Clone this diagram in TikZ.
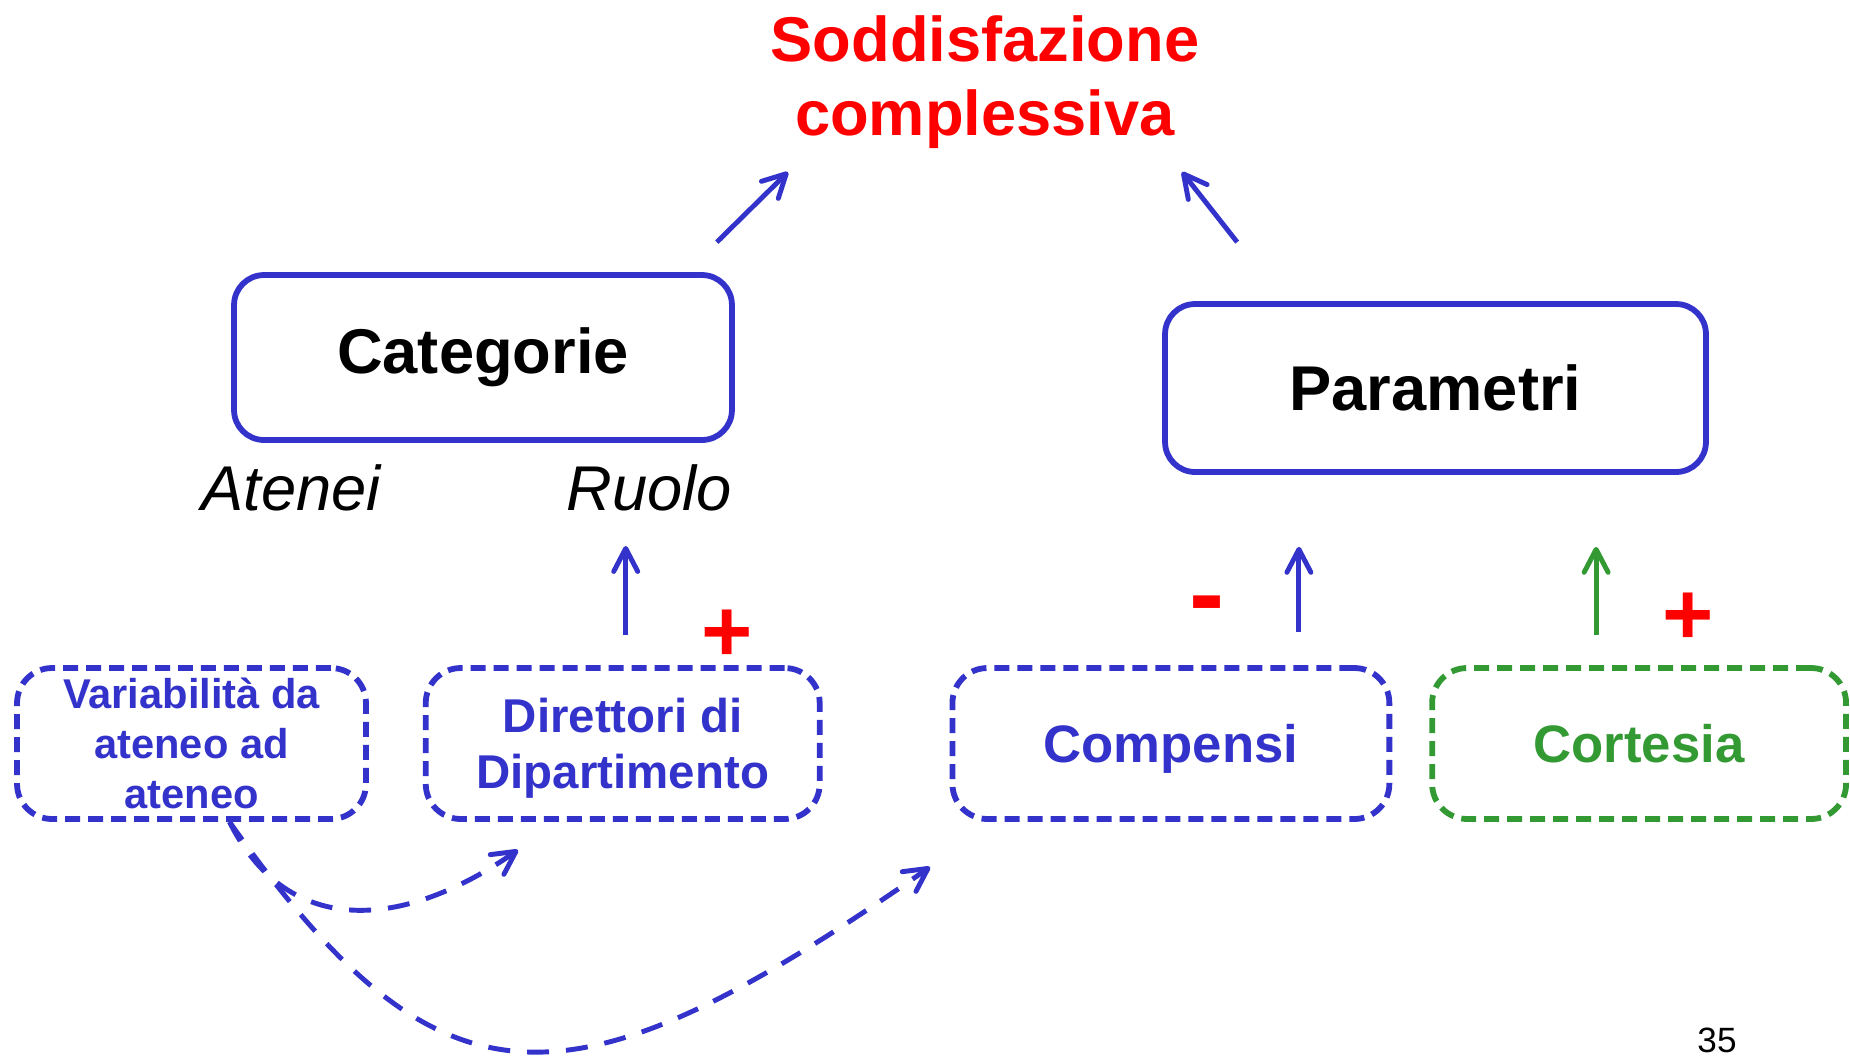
\documentclass[tikz,border=0pt]{standalone}
\usepackage{fontspec}
\setmainfont{Liberation Sans}
\usetikzlibrary{arrows.meta, positioning}
\definecolor{blu}{RGB}{51,51,204}
\definecolor{verde}{RGB}{51,153,51}

\begin{document}
\begin{tikzpicture}[
    x=0.02cm, y=-0.02cm,
    box/.style={rectangle, draw=blu, line width=3.3pt, rounded corners=0.6cm,
                minimum height=3.3cm, align=center,
                font=\fontsize{36}{43}\selectfont\bfseries},
    dashbox/.style={rectangle, draw=blu, line width=3.3pt, rounded corners=0.7cm,
                dash pattern=on 0.3cm off 0.16cm, minimum height=3.02cm,
                inner sep=2pt, align=center, text=blu},
    etichetta/.style={font=\fontsize{36}{43}\selectfont\itshape, inner sep=0pt},
    segno/.style={text=red, font=\fontsize{50}{60}\selectfont\bfseries, inner sep=0pt},
    arrow/.style={-{Straight Barb[length=0.46cm, width=0.48cm, round]},
                line width=2.8pt, draw=blu},
    dasharrow/.style={arrow, dash pattern=on 0.44cm off 0.34cm},
    node distance=1.2cm
]
\useasboundingbox (0,0) rectangle (1850,1056);
\clip (0,0) rectangle (1850,1056);

%% TITOLO
\node[text=red, font=\fontsize{36}{42.5}\selectfont\bfseries, align=center,
      inner sep=0pt] (titolo) at (985,82) {Soddisfazione\\complessiva};

%% CATEGORIE E PARAMETRI
\node[box, minimum width=9.96cm] (cat) at (483,357.5) {Categorie};
\node[box, minimum width=10.82cm, minimum height=3.36cm] (par) at (1435.5,388) {Parametri};

\node[etichetta, anchor=base west] (atenei) at (201,510) {Atenei};
\node[etichetta, anchor=base east] (ruolo) at (732,510) {Ruolo};

\coordinate (puntaS) at (788,172);
\coordinate (puntaD) at (1182,172);
\draw[arrow] ([shift={(-18,-30)}]cat.north east) -- (puntaS);
\draw[arrow] ([shift={(75,-59)}]par.north west) -- (puntaD);

%% FATTORI
\node[dashbox, minimum width=6.98cm,
      font=\fontsize{23.7}{28.3}\selectfont\bfseries] (var) at (191.5,743.5) {
    Variabilità da\\ateneo ad\\ateneo
};
\node[dashbox, minimum width=7.88cm, right=1.08cm of var, text depth=0pt,
      font=\fontsize{27}{31.7}\selectfont\bfseries] (dir) {
    Direttori di\\Dipartimento
};
\node[dashbox, minimum width=8.74cm, right=2.54cm of dir, text depth=0pt,
      font=\fontsize{30}{36}\selectfont\bfseries] (comp) {Compensi};
\node[dashbox, draw=verde, text=verde, minimum width=8.28cm, right=0.74cm of comp,
      font=\fontsize{30}{36}\selectfont\bfseries] (cort) {Cortesia};

\coordinate (baseD) at ([shift={(3,-30)}]dir.north);
\coordinate (baseC) at ([shift={(128,-33)}]comp.north);
\coordinate (baseV) at ([shift={(-43,-30)}]cort.north);
\draw[arrow] (baseD) -- ([yshift=-0.72cm]baseD |- ruolo.base);
\draw[arrow, shorten >=1.44cm] (baseC) -- (baseC |- par.south);
\draw[arrow, draw=verde, shorten >=1.44cm] (baseV) -- (baseV |- par.south);

\node[segno] (piu1) at (727,636) {+};
\node[segno] (piu2) at (1688,619) {+};
\node[segno, font=\fontsize{60}{70}\selectfont\bfseries, anchor=base] (meno) at (1207,629) {-};

%% INFLUENZE
\coordinate (puntaDir) at (518,850);
\coordinate (puntaComp) at (930,867);
\draw[dasharrow] ([xshift=0.76cm]var.south) .. controls +(55,111) and +(-123,85) .. (puntaDir);
\draw[dasharrow] ([xshift=0.76cm]var.south) .. controls +(212,300) and +(-362,252) .. (puntaComp);

\node[font=\fontsize{20}{24}\selectfont, anchor=base, inner sep=0pt] (pag) at (1717,1052) {35};

\end{tikzpicture}
\end{document}
